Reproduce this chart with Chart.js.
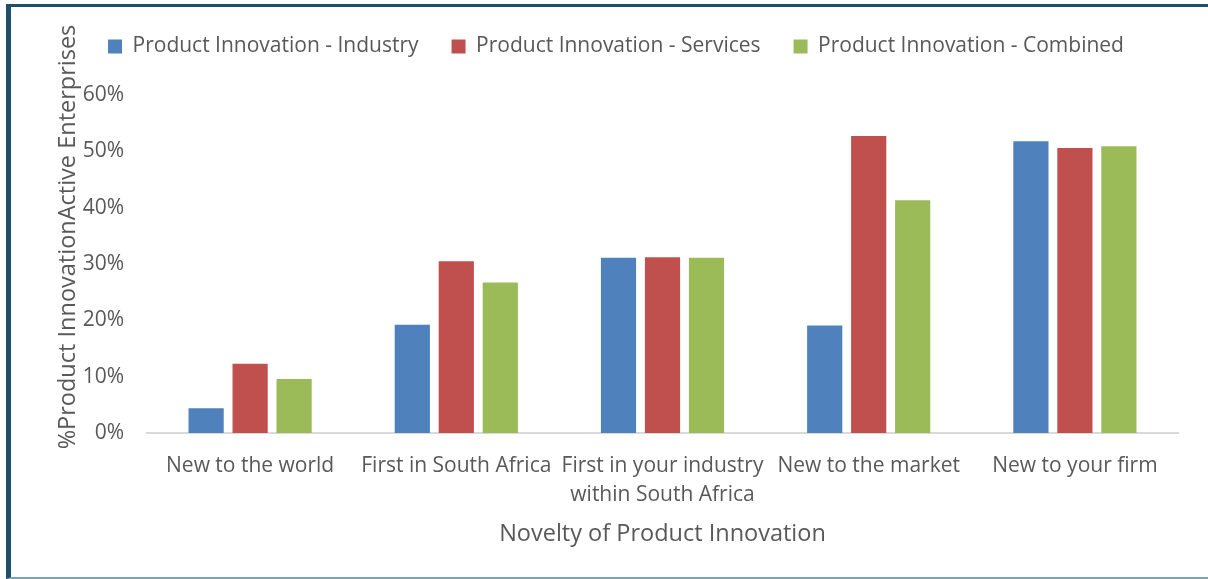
<!DOCTYPE html>
<html>
<head>
<meta charset="utf-8">
<script src="https://cdn.jsdelivr.net/npm/chart.js@4.4.1/dist/chart.umd.min.js"></script>
<style>
    html, body { margin: 0; padding: 0; background: #fff; }
    #contenedor { position: relative; width: 1208px; height: 579px; overflow: hidden; }
    #grafico { position: absolute; left: 0; top: 0; }
    /* marco del cuadro: izquierda y arriba oscuro, abajo más claro */
    #marco { position: absolute; left: 6px; top: 4px; right: -10px; bottom: 0; border-left: 5px solid #1F4E6B; border-top: 3px solid #1F4E6B; border-bottom: 2px solid #7FA2B2; pointer-events: none; }
</style>
</head>
<body>
<div id="contenedor">
    <canvas id="grafico" width="1208" height="579"></canvas>
    <div id="marco"></div>
</div>
<script>
const categorias = ['New to the world', 'First in South Africa', ['First in your industry', 'within South Africa'], 'New to the market', 'New to your firm'];
const industria = [4.4, 19.2, 31.1, 19.1, 51.8];
const servicios = [12.3, 30.5, 31.2, 52.7, 50.6];
const combinado = [9.6, 26.7, 31.1, 41.3, 50.9];
const marcasY = [0, 10, 20, 30, 40, 50, 60];

const colorTexto = '#595959';
Chart.defaults.font.family = '"Open Sans"';

// La leyenda ocupa todo el espacio hasta el inicio del área de barras
// y se corre un poco a la derecha
const ajusteLeyenda = {
    id: 'ajusteLeyenda',
    beforeInit(chart) {
        const fitOriginal = chart.legend.fit;
        chart.legend.fit = function () {
            fitOriginal.call(this);
            this.height = 92;
        };
    },
    afterLayout(chart) {
        chart.legend.left += 27;
        chart.legend.right += 27;
    }
};

// Título del eje Y dibujado a mano (va más arriba que el centro del eje)
const tituloEjeY = {
    id: 'tituloEjeY',
    afterDraw(chart) {
        const ctx = chart.ctx;
        ctx.save();
        ctx.translate(68, 237);
        ctx.rotate(-Math.PI / 2);
        ctx.font = '23.5px "Open Sans"';
        ctx.fillStyle = colorTexto;
        ctx.textAlign = 'center';
        ctx.textBaseline = 'middle';
        ctx.fillText('%Product InnovationActive Enterprises', 0, 0);
        ctx.restore();
    }
};

const ctx = document.getElementById('grafico').getContext('2d');
const grafico = new Chart(ctx, {
    type: 'bar',
    data: {
        labels: categorias,
        datasets: [
            { label: 'Product Innovation - Industry', data: industria, backgroundColor: '#4F81BD' },
            { label: 'Product Innovation - Services', data: servicios, backgroundColor: '#C0504D' },
            { label: 'Product Innovation - Combined', data: combinado, backgroundColor: '#9BBB59' }
        ]
    },
    options: {
        responsive: false,
        animation: false,
        categoryPercentage: 0.64,
        barPercentage: 0.8,
        layout: { padding: { top: 3, right: 30, bottom: 31, left: 0 } },
        plugins: {
            legend: {
                position: 'top',
                labels: {
                    boxWidth: 14,
                    boxHeight: 14,
                    padding: 33,
                    color: colorTexto,
                    font: { size: 21 }
                }
            },
            tooltip: { enabled: false }
        },
        scales: {
            x: {
                afterFit: (escala) => { escala.height = 115; },
                grid: { display: false, drawTicks: false },
                border: { display: true, color: '#D9D9D9', width: 2 },
                ticks: {
                    padding: 19,
                    color: colorTexto,
                    autoSkip: false,
                    maxRotation: 0,
                    font: { size: 21, lineHeight: 1.38 }
                },
                title: {
                    display: true,
                    text: 'Novelty of Product Innovation',
                    color: colorTexto,
                    padding: 0,
                    font: { size: 23.5 }
                }
            },
            y: {
                min: 0,
                max: 60,
                afterFit: (escala) => { escala.width = 147; },
                afterBuildTicks: (escala) => { escala.ticks = marcasY.map(v => ({ value: v })); },
                grid: { display: false, drawTicks: false },
                border: { display: false },
                ticks: {
                    padding: 23,
                    color: colorTexto,
                    font: { size: 21 },
                    callback: (valor) => valor + '%'
                }
            }
        }
    },
    plugins: [ajusteLeyenda, tituloEjeY]
});
</script>
</body>
</html>
